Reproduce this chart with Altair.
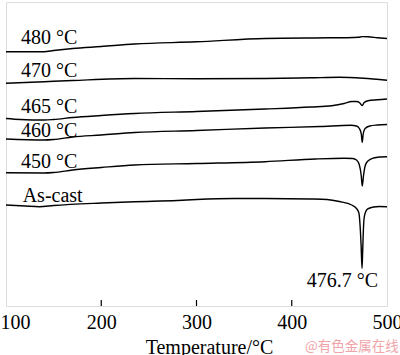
import altair as alt
import pandas as pd

# Temperatures (°C) and DSC signal (arbitrary units, upward = exothermic)
t_480 = [100, 140, 150, 170, 200, 235, 300, 372, 440, 465, 470, 474, 480, 490, 500]
v_480 = [254.3, 254.3, 255.5, 257.5, 259.5, 262, 264.2, 267.5, 268.2, 268.5, 268.7, 269.4, 269.2, 268.3, 267.5]

t_470 = [100, 140, 170, 235, 300, 372, 420, 450, 475, 500]
v_470 = [222.7, 224.3, 225.5, 227.5, 227.2, 227.5, 228.2, 228.7, 227.7, 225.7]

t_465 = [100, 115, 140, 150, 170, 200, 235, 300, 372, 420, 442, 455, 463, 468, 471, 474, 476, 480, 490, 500]
v_465 = [187.5, 186.5, 186, 186.5, 188.5, 190.5, 192.5, 194.5, 197, 199, 200.3, 202.5, 204.5, 204.5, 203.5, 200.5, 203.5, 205.2, 206.2, 207]

t_460 = [100, 140, 150, 170, 200, 235, 300, 372, 430, 462, 468, 471, 473, 474, 475, 477, 482, 490, 500]
v_460 = [167, 166, 166.5, 169, 171, 173.5, 175.5, 178, 179.5, 180.7, 180, 177.5, 172, 163.5, 172, 177.5, 180, 181, 181.5]

t_450 = [100, 140, 150, 170, 200, 235, 300, 372, 425, 455, 464, 468, 471, 473, 474, 475.3, 477, 480, 486, 493, 500]
v_450 = [133.3, 133, 133.5, 136, 138.5, 141, 142.5, 144.3, 147, 147.7, 147.5, 146, 141, 130, 120, 130, 140, 145, 148, 149, 149.3]

t_cast = [100, 120, 135, 150, 200, 235, 280, 300, 340, 372, 420, 437, 450, 463, 468, 470.5, 471.7, 472.8,
          473.8, 474.5, 475.2, 476, 477.5, 479, 482, 486, 492, 500]
v_cast = [101, 100, 99.3, 100.5, 103, 104.3, 105.5, 106.5, 107.5, 107.5, 107, 106.5, 104.5, 101, 97.5, 93, 81, 61,
          37.5, 56, 76, 88, 94, 96.5, 98, 99, 99.5, 99.3]

curve_names = ["480 °C", "470 °C", "465 °C", "460 °C", "450 °C", "As-cast"]
curve_t = [t_480, t_470, t_465, t_460, t_450, t_cast]
curve_v = [v_480, v_470, v_465, v_460, v_450, v_cast]

# Annotations (text, temperature, signal)
label_text = ["480 °C", "470 °C", "465 °C", "460 °C", "450 °C", "As-cast", "476.7 °C"]
label_t = [115.7, 115.7, 115.7, 115.7, 115.7, 117.5, 415.7]
label_v = [261.7, 229.3, 193.3, 169.3, 137.7, 103.7, 19.3]

tick_values = [100, 200, 300, 400, 500]
inner_ticks = [200, 300, 400]

rows = []
for name, ts, vs in zip(curve_names, curve_t, curve_v):
    for t, v in zip(ts, vs):
        rows.append({"curve": name, "T": t, "v": v})
df = pd.DataFrame(rows)
labels_df = pd.DataFrame({"text": label_text, "T": label_t, "v": label_v})
ticks_df = pd.DataFrame({"T": inner_ticks})

SERIF = "Liberation Serif"

x_scale = alt.Scale(domain=[100, 500], nice=False, zero=False)
y_scale = alt.Scale(domain=[0, 304], nice=False, zero=False)

x_axis = alt.Axis(
    values=tick_values, domain=False, ticks=False, tickSize=0, grid=False,
    labelFont=SERIF, labelFontSize=20, labelColor="black", labelPadding=22,
    labelBaseline="alphabetic", labelFlush=False, labelOverlap=False,
    labelAlign=alt.expr("datum.value == 100 ? 'left' : 'center'"),
    labelOffset=alt.expr("datum.value == 100 ? -6 : 0"),
    title="Temperature/°C", titleFont=SERIF, titleFontSize=20, titleFontWeight="normal",
    titleColor="black", titleX=203, titleY=47, titleBaseline="alphabetic", titleAlign="center",
)

lines = alt.Chart(df).mark_line(color="black", strokeWidth=1.4, interpolate="monotone").encode(
    x=alt.X("T:Q", scale=x_scale, axis=x_axis),
    y=alt.Y("v:Q", scale=y_scale, axis=None),
    detail="curve:N",
)

texts = alt.Chart(labels_df).mark_text(
    font=SERIF, fontSize=20, align="left", baseline="alphabetic", color="black"
).encode(
    x=alt.X("T:Q", scale=x_scale),
    y=alt.Y("v:Q", scale=y_scale),
    text="text:N",
)

ticks = alt.Chart(ticks_df).mark_rule(color="black", strokeWidth=1.2).encode(
    x=alt.X("T:Q", scale=x_scale),
    y=alt.value(304),
    y2=alt.value(298),
)

watermark = alt.Chart(pd.DataFrame({"w": ["@有色金属在线"]})).mark_text(
    font="Noto Sans CJK SC", fontSize=13.5, align="left", baseline="alphabetic", color="#f0a4a8"
).encode(
    x=alt.value(299),
    y=alt.value(349),
    text="w:N",
)

chart = alt.layer(lines, texts, ticks, watermark).properties(
    width=381, height=304,
    autosize=alt.AutoSizeParams(type="none"),
    padding={"left": 6, "top": 2, "right": 13, "bottom": 49},
).configure_view(
    stroke="black", strokeWidth=1.5
).configure(background="white")

chart.save("out.html", embed_options={"renderer": "svg", "actions": False})
